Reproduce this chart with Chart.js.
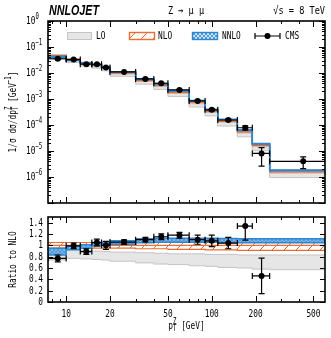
<!DOCTYPE html>
<html><head><meta charset="utf-8">
<script src="https://cdn.jsdelivr.net/npm/chart.js@4.4.0/dist/chart.umd.min.js"></script>
<style>
html,body{margin:0;padding:0;background:#fff;width:331px;height:338px;overflow:hidden}
#wrap{position:relative;width:331px;height:338px}
canvas{position:absolute;left:0}
#top{top:0}#bot{top:210px}
</style></head><body>
<div id="wrap"><canvas id="top" width="331" height="210"></canvas><canvas id="bot" width="331" height="128"></canvas></div>
<script>
// ---- data ----
const binEdges   = [7.5,10,12.5,15,17.5,20,30,40,50,70,90,110,150,190,250,600];
const binCenters = [8.75,11.25,13.75,16.25,18.75,25,35,45,60,80,100,130,170,220,425];
const nloCentral = [0.046,0.033,0.0245,0.0205,0.0163,0.0104,0.0054,0.0035,0.0019,7.7e-4,3.55e-4,1.5e-4,5.85e-5,1.76e-5,1.67e-6];
const nloLowRatio  = [0.95,0.95,0.95,0.95,0.95,0.95,0.94,0.94,0.93,0.93,0.92,0.92,0.91,0.91,0.91];
const nloHighRatio = [1.05,1.05,1.05,1.05,1.05,1.06,1.06,1.07,1.07,1.07,1.08,1.08,1.08,1.08,1.08];
const nnloRatio     = [0.89,0.955,0.98,1.02,1.03,1.05,1.08,1.09,1.09,1.09,1.09,1.085,1.08,1.08,1.08];
const nnloLowRatio  = [0.83,0.92,0.95,0.99,1.0,1.02,1.045,1.055,1.055,1.055,1.055,1.05,1.045,1.045,1.045];
const nnloHighRatio = [0.95,0.99,1.01,1.05,1.06,1.08,1.115,1.125,1.125,1.125,1.125,1.12,1.115,1.115,1.115];
const loRatio     = [0.82,0.84,0.83,0.82,0.81,0.80,0.78,0.77,0.76,0.75,0.74,0.73,0.72,0.71,0.70];
const loLowRatio  = [0.74,0.77,0.76,0.75,0.74,0.72,0.69,0.67,0.66,0.64,0.63,0.61,0.60,0.58,0.57];
const loHighRatio = [0.89,0.92,0.91,0.90,0.89,0.88,0.87,0.86,0.85,0.85,0.84,0.84,0.83,0.83,0.83];
const cmsValues = [0.0354,0.0327,0.0218,0.0215,0.0163,0.0110,0.00594,0.00403,0.00224,8.47e-4,3.83e-4,1.56e-4,7.84e-5,8.1e-6,4.0e-6];
const cmsErrors = [0.00276,0.00165,0.00123,0.00123,0.00114,0.00042,0.00022,0.000175,0.000095,6.2e-5,3.55e-5,1.5e-5,1.46e-5,5.5e-6,1.9e-6];
const xMajorTicks = [10,20,50,100,200,500];
const xMinorTicks = [8,9,30,40,60,70,80,90,300,400];
const yTopExponents = [0,-1,-2,-3,-4,-5,-6];
const ratioTicks = [0,0.2,0.4,0.6,0.8,1,1.2,1.4];
const ratioTickLabels = ['0','0.2','0.4','0.6','0.8','1','1.2','1.4'];

// ---- styling helpers ----
const MONO = "'DejaVu Sans Mono','Liberation Mono',monospace";
const BLUE = '#2f86d0', ORANGE = '#ec6b2d', GRAYL = '#c4c4c4', GRAYF = '#e6e6e6';
function makePattern(size, draw){const c=document.createElement('canvas');c.width=c.height=size;const g=c.getContext('2d');draw(g,size);return g.createPattern(c,'repeat');}
const nloHatch = makePattern(12,(g,s)=>{g.strokeStyle=ORANGE;g.lineWidth=1;g.beginPath();g.moveTo(0,s);g.lineTo(s,0);g.moveTo(-2,2);g.lineTo(2,-2);g.moveTo(s-2,s+2);g.lineTo(s+2,s-2);g.stroke();});
const nnloHatch = makePattern(4,(g,s)=>{g.fillStyle='#4f98d8';g.fillRect(0,0,s,s);g.strokeStyle='#8fc2ec';g.lineWidth=0.7;g.beginPath();g.moveTo(0,0);g.lineTo(s,s);g.moveTo(0,s);g.lineTo(s,0);g.stroke();});
const nnloLegendHatch = makePattern(4,(g,s)=>{g.fillStyle='#cfe4f6';g.fillRect(0,0,s,s);g.strokeStyle=BLUE;g.lineWidth=0.8;g.beginPath();g.moveTo(0,0);g.lineTo(s,s);g.moveTo(0,s);g.lineTo(s,0);g.stroke();});

function steps(vals){return binEdges.map((e,i)=>({x:e,y:vals[Math.min(i,vals.length-1)]}));}
function times(r){return r.map((v,i)=>v*nloCentral[i]);}
function lineDs(vals,color,width,order,fill,bg,dash){return {type:'line',data:steps(vals),stepped:true,borderColor:color,borderWidth:width,pointRadius:0,fill:fill||false,backgroundColor:bg||'transparent',order:order,borderDash:dash||[]};}

function runText(ctx,segs,x,y,align,sx,rot){
  ctx.save();ctx.translate(x,y);if(rot)ctx.rotate(rot);ctx.scale(sx,1);
  let total=0;
  segs.forEach(s=>{ctx.font=(s.bold?'bold ':'')+s.size+'px '+MONO;s.w=ctx.measureText(s.t).width;if(s.adv!==false)total+=s.w;});
  let cx=align==='center'?-total/2:align==='right'?-total:0;
  ctx.textBaseline='middle';ctx.textAlign='left';ctx.fillStyle='#000';
  segs.forEach(s=>{ctx.font=(s.bold?'bold ':'')+s.size+'px '+MONO;ctx.fillText(s.t,cx,s.dy||0);if(s.adv!==false)cx+=s.w;});
  ctx.restore();
}
const SX=0.71;

function drawErrorBars(chart,vals,errs){
  const ctx=chart.ctx,xs=chart.scales.x,ys=chart.scales.y,a=chart.chartArea;
  ctx.save();ctx.beginPath();ctx.rect(a.left,a.top,a.right-a.left,a.bottom-a.top);ctx.clip();
  ctx.strokeStyle='#000';ctx.lineWidth=1.2;
  vals.forEach((v,i)=>{
    if(v>ys.max||v<ys.min)return;
    const y=ys.getPixelForValue(v),x=xs.getPixelForValue(binCenters[i]);
    const xl=xs.getPixelForValue(binEdges[i]),xr=xs.getPixelForValue(binEdges[i+1]);
    const lo=v-errs[i];const yl=ys.getPixelForValue(lo>0?lo:ys.min),yh=ys.getPixelForValue(v+errs[i]);
    ctx.beginPath();
    ctx.moveTo(xl,y);ctx.lineTo(xr,y);ctx.moveTo(xl,y-3);ctx.lineTo(xl,y+3);ctx.moveTo(xr,y-3);ctx.lineTo(xr,y+3);
    ctx.moveTo(x,yl);ctx.lineTo(x,yh);ctx.moveTo(x-3,yl);ctx.lineTo(x+3,yl);ctx.moveTo(x-3,yh);ctx.lineTo(x+3,yh);
    ctx.stroke();
  });
  ctx.restore();
}
function drawXTicks(chart){
  const ctx=chart.ctx,xs=chart.scales.x,a=chart.chartArea;
  ctx.beginPath();
  xMajorTicks.forEach(v=>{const p=Math.round(xs.getPixelForValue(v))+0.5;ctx.moveTo(p,a.bottom);ctx.lineTo(p,a.bottom-6);ctx.moveTo(p,a.top);ctx.lineTo(p,a.top+6);});
  xMinorTicks.forEach(v=>{const p=Math.round(xs.getPixelForValue(v))+0.5;ctx.moveTo(p,a.bottom);ctx.lineTo(p,a.bottom-3);ctx.moveTo(p,a.top);ctx.lineTo(p,a.top+3);});
  ctx.stroke();
}
function frame(chart){const ctx=chart.ctx,a=chart.chartArea;ctx.lineWidth=1.6;ctx.strokeStyle='#000';ctx.strokeRect(a.left,a.top,a.right-a.left,a.bottom-a.top);}

const topPlugin={id:'topDeco',
  afterDatasetsDraw(chart){drawErrorBars(chart,cmsValues,cmsErrors);},
  afterDraw(chart){
    const ctx=chart.ctx,ys=chart.scales.y,a=chart.chartArea;
    ctx.save();ctx.strokeStyle='#000';ctx.lineWidth=1;
    drawXTicks(chart);
    ctx.beginPath();
    for(let d=-7;d<=0;d++){
      const p=Math.round(ys.getPixelForValue(Math.pow(10,d)))+0.5;
      ctx.moveTo(a.left,p);ctx.lineTo(a.left+6,p);ctx.moveTo(a.right,p);ctx.lineTo(a.right-6,p);
      if(d<0)for(let k=2;k<10;k++){const q=Math.round(ys.getPixelForValue(k*Math.pow(10,d)))+0.5;ctx.moveTo(a.left,q);ctx.lineTo(a.left+3,q);ctx.moveTo(a.right,q);ctx.lineTo(a.right-3,q);}
    }
    ctx.stroke();
    frame(chart);
    yTopExponents.forEach(e=>{
      const p=ys.getPixelForValue(Math.pow(10,e));
      runText(ctx,[{t:'10',size:11},{t:e===0?'0':'−'+(-e),size:8,dy:-4}],26,p,'left',SX);
    });
    runText(ctx,[{t:'1/σ dσ/dp',size:11},{t:'T',size:8,dy:3,adv:false},{t:'Z',size:8,dy:-4},{t:' [GeV',size:11},{t:'−1',size:8,dy:-4},{t:']',size:11}],13,(a.top+a.bottom)/2,'center',SX,-Math.PI/2);
    // header
    ctx.save();ctx.font="italic bold 14px 'Liberation Sans','DejaVu Sans',sans-serif";
    const w=ctx.measureText('NNLOJET').width;ctx.translate(49,15);ctx.scale(50/w,1);ctx.fillStyle='#000';ctx.textBaseline='alphabetic';ctx.fillText('NNLOJET',0,0);ctx.restore();
    runText(ctx,[{t:'Z → μ μ',size:11}],186,11,'center',0.78);
    runText(ctx,[{t:'√s = 8 TeV',size:11}],325,11,'right',0.78);
    // legend
    const ly=36;
    ctx.fillStyle=GRAYF;ctx.fillRect(67,32,24,7);ctx.strokeStyle=GRAYL;ctx.lineWidth=1;ctx.strokeRect(67.5,32.5,24,7);
    ctx.fillStyle=nloHatch;ctx.fillRect(129,32,25,7);ctx.strokeStyle=ORANGE;ctx.lineWidth=1.4;ctx.strokeRect(129.5,32.5,25,7);
    ctx.fillStyle=nnloLegendHatch;ctx.fillRect(192,32,25,7);ctx.strokeStyle=BLUE;ctx.lineWidth=1.4;ctx.strokeRect(192.5,32.5,25,7);
    ctx.strokeStyle='#000';ctx.lineWidth=1.2;ctx.beginPath();ctx.moveTo(255,ly);ctx.lineTo(280,ly);ctx.moveTo(255,ly-3);ctx.lineTo(255,ly+3);ctx.moveTo(280,ly-3);ctx.lineTo(280,ly+3);ctx.stroke();
    ctx.fillStyle='#000';ctx.beginPath();ctx.arc(267.5,ly,3,0,2*Math.PI);ctx.fill();
    runText(ctx,[{t:'LO',size:11}],96,ly+0.5,'left',SX);
    runText(ctx,[{t:'NLO',size:11}],158,ly+0.5,'left',SX);
    runText(ctx,[{t:'NNLO',size:11}],222,ly+0.5,'left',SX);
    runText(ctx,[{t:'CMS',size:11}],285,ly+0.5,'left',SX);
    ctx.restore();
  }};

const botPlugin={id:'botDeco',
  afterDatasetsDraw(chart){drawErrorBars(chart,cmsValues.map((v,i)=>v/nloCentral[i]),cmsErrors.map((v,i)=>v/nloCentral[i]));},
  afterDraw(chart){
    const ctx=chart.ctx,xs=chart.scales.x,ys=chart.scales.y,a=chart.chartArea;
    ctx.save();ctx.strokeStyle='#000';ctx.lineWidth=1;
    drawXTicks(chart);
    ctx.beginPath();
    ratioTicks.forEach(v=>{const p=Math.round(ys.getPixelForValue(v))+0.5;ctx.moveTo(a.left,p);ctx.lineTo(a.left+5,p);ctx.moveTo(a.right,p);ctx.lineTo(a.right-5,p);});
    ctx.stroke();
    frame(chart);
    ratioTicks.forEach((v,i)=>runText(ctx,[{t:ratioTickLabels[i],size:11}],43,ys.getPixelForValue(v),'right',SX));
    xMajorTicks.forEach(v=>runText(ctx,[{t:String(v),size:11}],xs.getPixelForValue(v),104,'center',SX));
    runText(ctx,[{t:'Ratio to NLO',size:11}],13,(a.top+a.bottom)/2,'center',SX,-Math.PI/2);
    runText(ctx,[{t:'p',size:11},{t:'T',size:8,dy:3,adv:false},{t:'Z',size:8,dy:-4},{t:' [GeV]',size:11}],(a.left+a.right)/2,116,'center',SX);
    ctx.restore();
  }};

function sc(scale,r){return scale===null?r:times(r);}
function theorySets(scale){
  const ratio=scale===null;
  return [
    {type:'line',data:binCenters.map((c,i)=>({x:c,y:ratio?cmsValues[i]/nloCentral[i]:cmsValues[i]})),showLine:false,pointRadius:3,pointBackgroundColor:'#000',pointBorderColor:'#000',borderWidth:0,order:0},
    // NNLO
    lineDs(sc(scale,nnloLowRatio),BLUE,1.5,1),
    lineDs(sc(scale,nnloHighRatio),BLUE,1.5,1,'-1',nnloHatch),
    lineDs(sc(scale,nnloRatio),ratio?'#cfe5f7':BLUE,1,1,false,null,ratio?[3,2]:[]),
    // NLO
    lineDs(sc(scale,nloLowRatio),ORANGE,1.2,2),
    lineDs(sc(scale,nloHighRatio),ORANGE,1.2,2,'-1',nloHatch),
    lineDs(sc(scale,nloCentral.map((v,i)=>v/nloCentral[i])),ORANGE,1.2,2),
    // LO
    lineDs(sc(scale,loLowRatio),GRAYL,1,3),
    lineDs(sc(scale,loHighRatio),GRAYL,1,3,'-1',GRAYF),
    lineDs(sc(scale,loRatio),GRAYL,1,3)
  ];
}

function mkChart(id,datasets,yScale,pad,plugin){
  return new Chart(document.getElementById(id),{
    type:'line',data:{datasets},
    options:{responsive:false,animation:false,events:[],
      layout:{padding:pad},
      plugins:{legend:{display:false},tooltip:{enabled:false}},
      scales:{
        x:{type:'logarithmic',min:7.5,max:600,ticks:{display:false},grid:{display:false,drawTicks:false},border:{display:false},afterFit:s=>{s.height=0;}},
        y:Object.assign({ticks:{display:false},grid:{display:false,drawTicks:false},border:{display:false},afterFit:s=>{s.width=48;}},yScale)
      }},
    plugins:[plugin]});
}
mkChart('top',theorySets('abs'),{type:'logarithmic',min:1e-7,max:1},{top:21,right:6,bottom:7,left:0},topPlugin);
mkChart('bot',theorySets(null),{type:'linear',min:0,max:1.5},{top:7,right:6,bottom:36,left:0},botPlugin);
</script></body></html>
